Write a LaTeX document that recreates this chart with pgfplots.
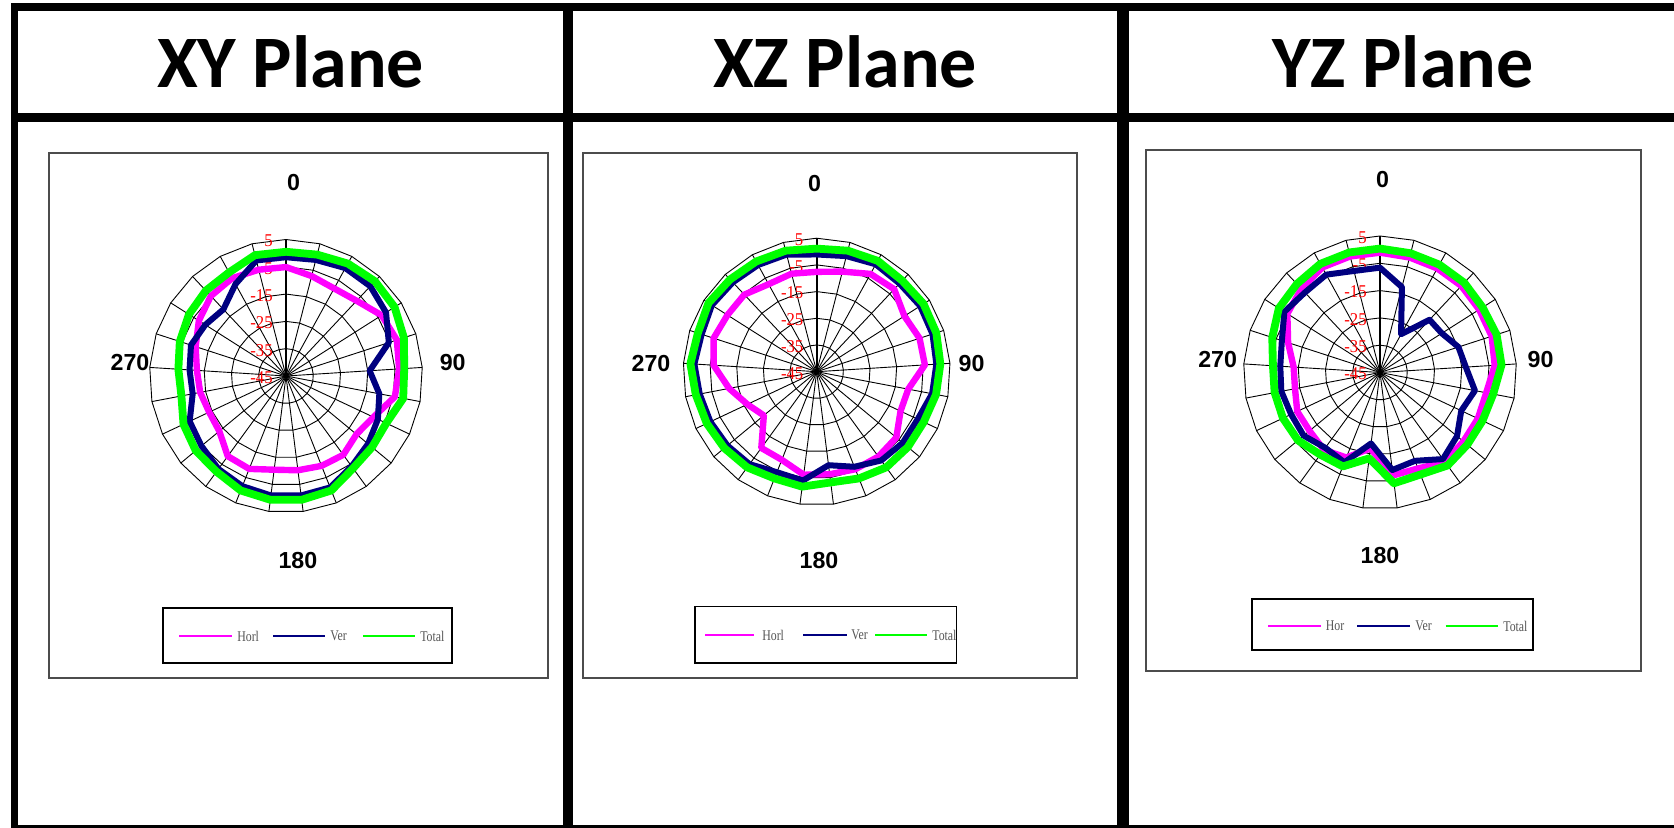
\documentclass[border=0pt]{standalone}
\usepackage{fontspec}
\usepackage{pgfplots}
\usepackage{pgfplotstable}
\pgfplotsset{compat=1.18}
\usepgfplotslibrary{polar}
\setmainfont{Liberation Serif}
\newfontfamily\hdrfont{Carlito}[BoldFont=* Bold]
\newfontfamily\arialfont{Liberation Sans}
\definecolor{hor}{HTML}{FF00FF}
\definecolor{ver}{HTML}{000080}
\definecolor{tot}{HTML}{00FF00}
\definecolor{leggray}{HTML}{555555}

% ang = category (0,15,...,360); 375 closes the polygon back to 0
\pgfplotstableread{
ang hor ver tot
0 -5.1 -1.5 0.5
15 -7.2 -1.1 0.9
30 -8.4 0.1 2.0
45 -7.2 0.1 2.6
60 -3.5 -1.6 2.1
75 -2.3 -5.4 0.4
90 -3.5 -14.3 -1.6
105 -4.4 -10.2 -1.3
120 -9.6 -7.8 -4.4
135 -11.5 -6.0 -4.1
150 -9.3 -4.1 -3.2
165 -9.6 -1.1 0.1
180 -10.2 -0.9 0.7
195 -10.4 -0.9 0.7
210 -8.4 -1.6 0.1
225 -8.7 -2.9 -1.7
240 -13.3 -4.8 -2.1
255 -13.9 -6.0 -3.5
270 -13.0 -10.2 -6.0
285 -12.3 -9.6 -5.5
300 -10.2 -8.4 -4.1
315 -7.2 -10.0 -2.9
330 -4.8 -11.5 -2.1
345 -4.1 -6.6 -1.7
360 -4.8 -1.3 0.7
375 -5.1 -1.5 0.5
}\xydata

\pgfplotstableread{
ang hor ver tot
0 -7.6 -1.1 1.1
15 -6.3 -0.3 1.8
30 -3.2 0.9 2.4
45 -2.6 0.3 1.8
60 -6.1 0.9 2.4
75 -4.5 0.6 2.1
90 -4.4 -0.1 1.4
105 -10.1 -1.0 0.5
120 -10.3 -3.2 -0.7
135 -6.3 -3.2 -0.7
150 -5.7 -3.9 -0.7
165 -5.7 -6.7 -2.0
180 -6.3 -9.7 -3.2
195 -6.1 -3.9 -1.6
210 -9.5 -4.5 -2.0
225 -9.7 -2.2 -0.7
240 -19.3 -1.6 -0.1
255 -16.3 -1.0 0.5
270 -11.6 -0.4 1.1
285 -6.3 0.9 2.4
300 -4.4 0.3 1.8
315 -5.4 1.5 3.0
330 -5.4 0.9 2.4
345 -7.6 0.6 2.1
360 -7.1 0.3 1.8
375 -7.6 -1.1 1.1
}\xzdata

\pgfplotstableread{
ang hor ver tot
0 -1.1 -6.6 0.4
15 -1.5 -12.7 0.1
30 -1.5 -29.0 0.1
45 -1.5 -18.5 0.1
60 -2.0 -18.2 -0.5
75 -2.0 -14.8 -0.1
90 -2.9 -13.5 -0.4
105 -5.4 -9.6 -2.8
120 -5.4 -12.1 -3.5
135 -5.4 -8.4 -3.5
150 -4.5 -5.8 -2.9
165 -7.2 -10.2 -4.8
180 -7.0 -9.0 -4.1
195 -17.0 -18.8 -13.3
210 -11.5 -9.6 -8.0
225 -10.0 -10.9 -7.8
240 -11.5 -8.7 -6.0
255 -11.5 -9.0 -5.7
270 -13.3 -8.2 -5.7
285 -13.3 -8.4 -5.7
300 -9.6 -7.2 -3.5
315 -4.8 -3.5 -1.1
330 -2.9 -4.8 -0.5
345 -1.1 -4.1 0.4
360 -1.1 -6.6 0.4
375 -1.1 -6.6 0.4
}\yzdata

\pgfplotsset{
  radar/.style={scale only axis, width=#1, height=#1,
    xmin=0, xmax=360, ymin=0, ymax=50, hide axis, clip=false, anchor=center,
    x filter/.expression={90-0.96*x}, y filter/.expression={y+45}},
  phor/.style={color=hor, line width=3.2pt, line join=round, line cap=round},
  pver/.style={color=ver, line width=3.0pt, line join=round, line cap=round},
  ptot/.style={color=tot, line width=3.9pt, line join=round, line cap=round},
}

\tikzset{gridl/.style={black, line width=0.45pt},
  rlbl/.style={text=red, font=\fontsize{9}{10}\selectfont, inner sep=0pt, anchor=east, xscale=0.93},
  angl/.style={font=\arialfont\bfseries\fontsize{11.6}{13}\selectfont, inner sep=0pt},
  legt/.style={text=leggray, font=\fontsize{7.4}{8}\selectfont, inner sep=0pt, anchor=west, xscale=0.8},
  hdr/.style={font=\hdrfont\bfseries\fontsize{37}{40}\selectfont, inner sep=0pt, anchor=base}}

% #1 cx, #2 cy, #3 R (pixel units, y downward)
\newcommand{\radargrid}[3]{%
  \foreach \k in {1,...,5}{%
    \draw[gridl] ({#1},{#2-\k*#3/5}) \foreach \i in {1,...,24}{ -- ({#1+\k*#3/5*sin(14.4*\i)},{#2-\k*#3/5*cos(14.4*\i)}) } -- cycle;
  }%
  \foreach \i in {1,...,24}{\draw[gridl] (#1,#2) -- ({#1+#3*sin(14.4*\i)},{#2-#3*cos(14.4*\i)});}%
  \draw[black, line width=0.8pt] (#1,#2) -- (#1,{#2-#3});
  \fill (#1,#2) circle (2.5);
  \foreach \v [count=\k from 0] in {-45,-35,-25,-15,-5,5}{%
    \node[rlbl] at ({#1-13},{#2-\k*#3/5+1.5}) {\v};}%
}

\begin{document}
\begin{tikzpicture}
\useasboundingbox (0,0) rectangle (837pt,-414pt);
\begin{scope}[x=0.5pt,y=-0.5pt]
\clip (0,0) rectangle (1674,828);
% table frame
\fill[black] (11,3.5) rectangle (1680,11.5);
\fill[black] (11,3.5) rectangle (18,835);
\fill[black] (11,113) rectangle (1680,122);
\fill[black] (563,3.5) rectangle (573,835);
\fill[black] (1117,3.5) rectangle (1129,835);
\fill[black] (11,825) rectangle (1680,835);
% headers
\node[hdr] at (290.5,87.5) {XY Plane};
\node[hdr] at (845,87.5) {XZ Plane};
\node[hdr] at (1403,87.5) {YZ Plane};
% chart boxes
\draw[black!70, line width=0.6pt] (49,153) rectangle (548,678);
\draw[black!70, line width=0.6pt] (583,153) rectangle (1077,678);
\draw[black!70, line width=0.6pt] (1146,150) rectangle (1641,671);
% grids
\radargrid{286}{376}{136.5}
\radargrid{816.7}{371.7}{133.5}
\radargrid{1380}{372.5}{136.5}
% angle labels
\node[angl] at (293.6,182.6) {0};
\node[angl] at (130,363) {270};
\node[angl] at (452.7,363) {90};
\node[angl] at (297.9,560.5) {180};
\node[angl] at (814.6,183.6) {0};
\node[angl] at (651,364) {270};
\node[angl] at (971.5,364) {90};
\node[angl] at (819,560.5) {180};
\node[angl] at (1382.5,179.4) {0};
\node[angl] at (1217.6,359.8) {270};
\node[angl] at (1540.5,359.8) {90};
\node[angl] at (1380,556) {180};
% legends
\draw[black, line width=0.6pt] (163,608) rectangle (452,663);
\draw[hor, line width=1.2pt] (179,636) -- (232,636); \node[legt] at (237,636) {Horl};
\draw[ver, line width=1.2pt] (273,636) -- (325,636); \node[legt] at (330,636) {Ver};
\draw[tot, line width=1.2pt] (363,636) -- (415,636); \node[legt] at (420,636) {Total};
\draw[black, line width=0.6pt] (695,606.5) rectangle (956.5,663);
\draw[hor, line width=1.2pt] (705,635) -- (754,635); \node[legt] at (762,635) {Horl};
\draw[ver, line width=1.2pt] (803,635) -- (847,635); \node[legt] at (851,635) {Ver};
\draw[tot, line width=1.2pt] (875,635) -- (927,635); \node[legt] at (932,635) {Total};
\draw[black, line width=0.6pt] (1252,599) rectangle (1533,650);
\draw[hor, line width=1.2pt] (1268,626) -- (1321,626); \node[legt] at (1325.6,626) {Hor};
\draw[ver, line width=1.2pt] (1357,626) -- (1410,626); \node[legt] at (1415,626) {Ver};
\draw[tot, line width=1.2pt] (1445.5,626) -- (1498.3,626); \node[legt] at (1503,626) {Total};
\end{scope}

\begin{polaraxis}[radar=136.5pt, at={(143pt,-188pt)}]
\addplot[phor] table[x=ang,y=hor]{\xydata};
\addplot[pver] table[x=ang,y=ver]{\xydata};
\addplot[ptot] table[x=ang,y=tot]{\xydata};
\end{polaraxis}
\begin{polaraxis}[radar=133.5pt, at={(408.35pt,-185.85pt)}]
\addplot[phor] table[x=ang,y=hor]{\xzdata};
\addplot[pver] table[x=ang,y=ver]{\xzdata};
\addplot[ptot] table[x=ang,y=tot]{\xzdata};
\end{polaraxis}
\begin{polaraxis}[radar=136.5pt, at={(690pt,-186.25pt)}]
\addplot[phor] table[x=ang,y=hor]{\yzdata};
\addplot[pver] table[x=ang,y=ver]{\yzdata};
\addplot[ptot] table[x=ang,y=tot]{\yzdata};
\end{polaraxis}
\end{tikzpicture}
\end{document}
